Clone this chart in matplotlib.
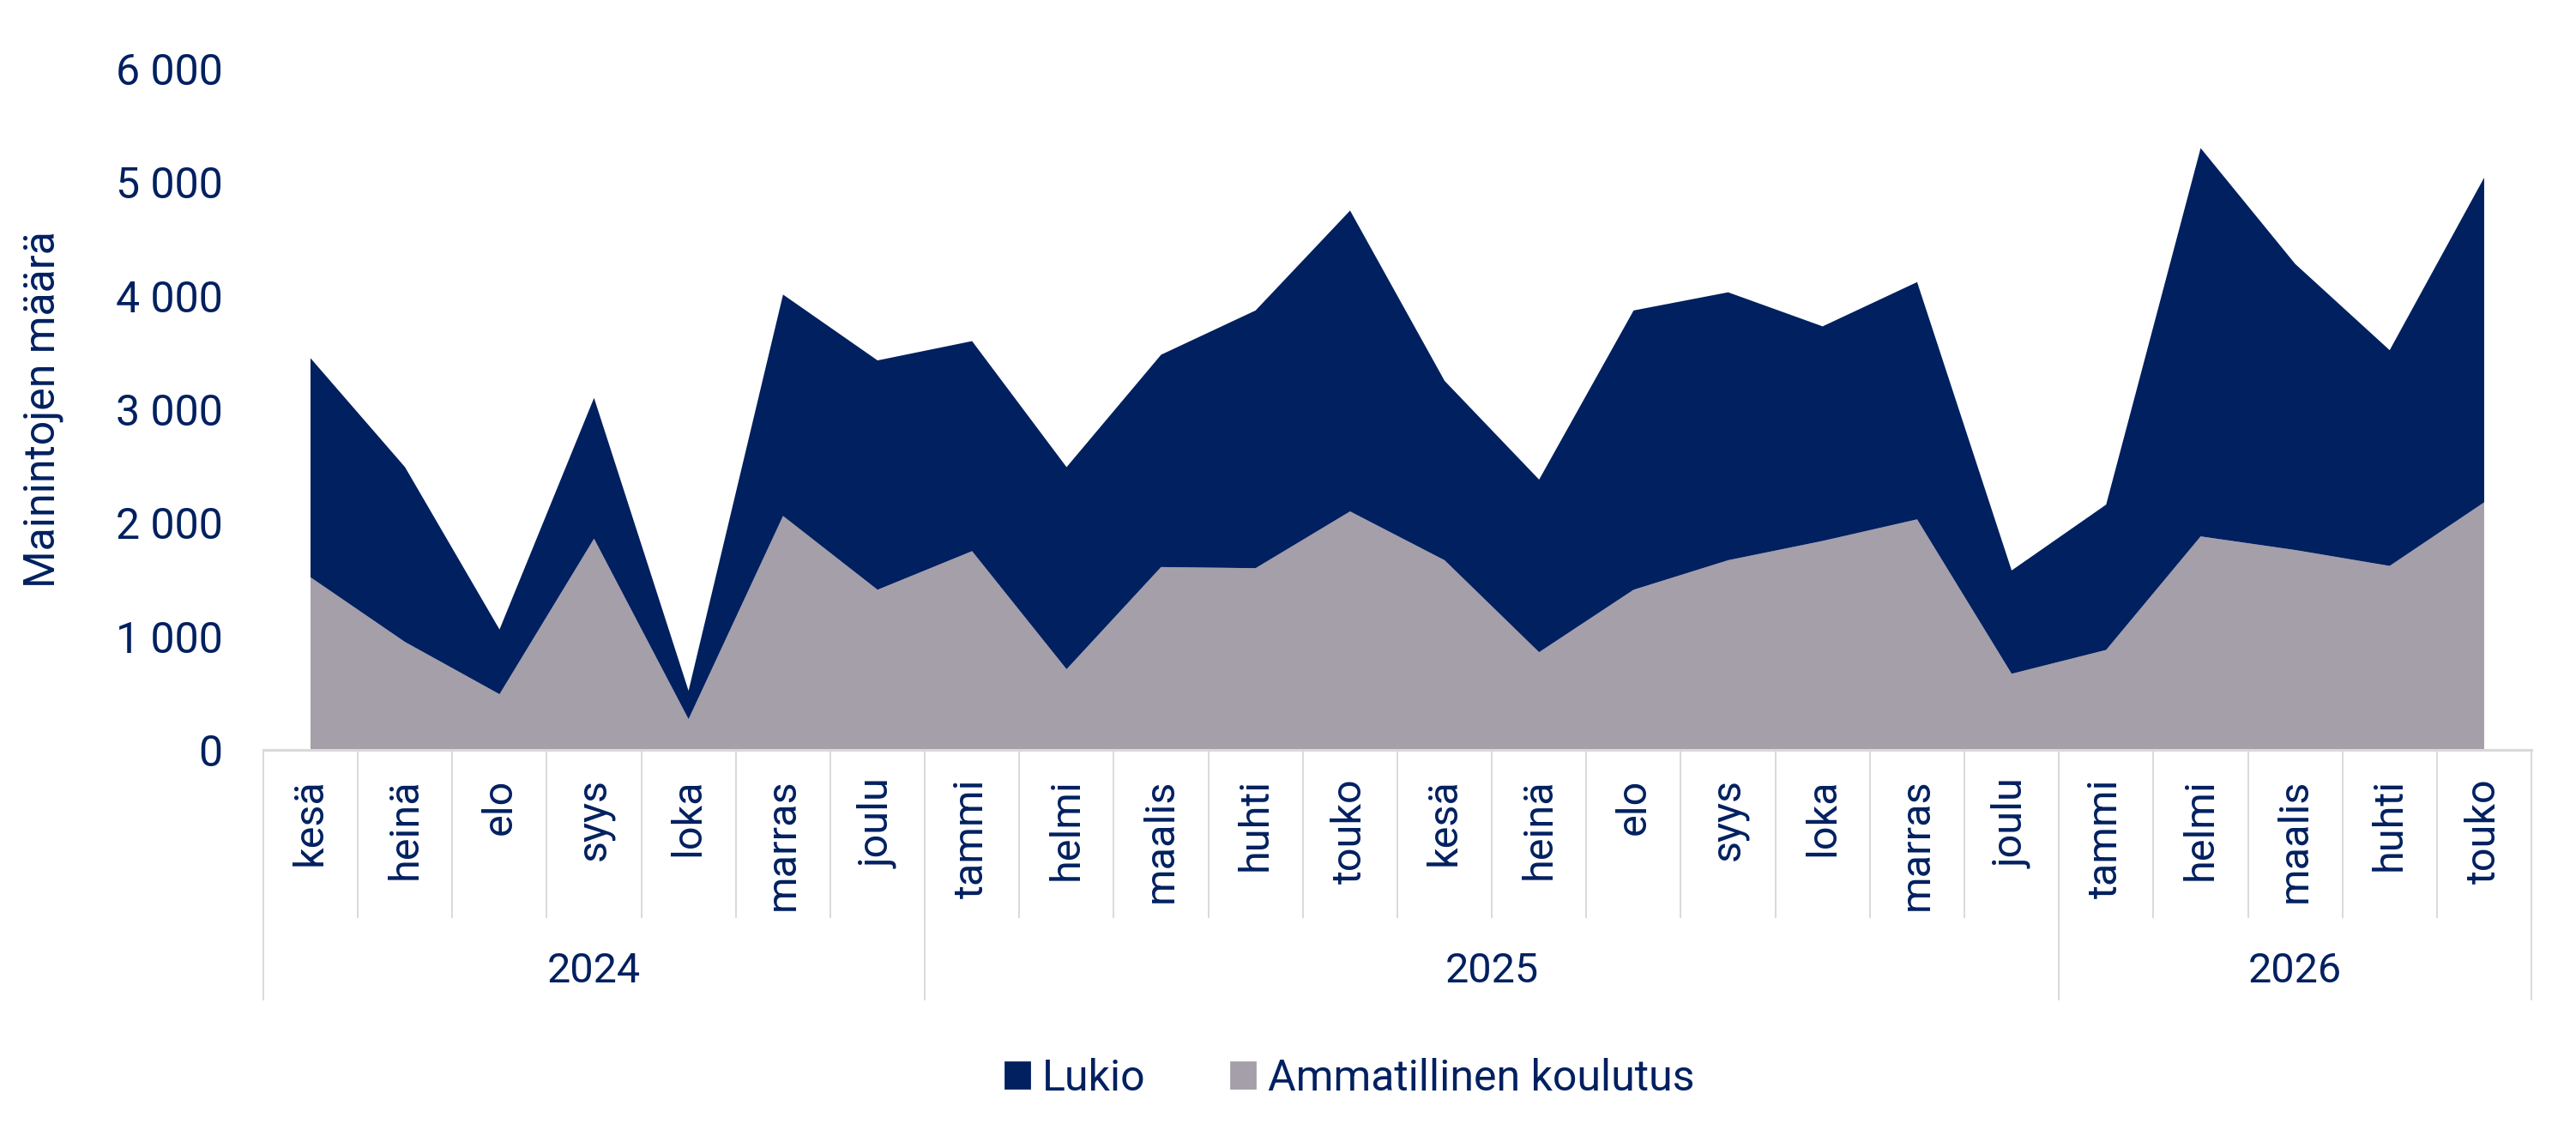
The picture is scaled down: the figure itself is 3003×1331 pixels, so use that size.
import matplotlib.pyplot as plt
import matplotlib.transforms as mtransforms
from matplotlib.patches import Patch
import numpy as np

plt.rcParams['font.family'] = ['Roboto', 'DejaVu Sans']

# months shown on the x axis, grouped by year
months = ['kesä', 'heinä', 'elo', 'syys', 'loka', 'marras', 'joulu',
          'tammi', 'helmi', 'maalis', 'huhti', 'touko', 'kesä', 'heinä',
          'elo', 'syys', 'loka', 'marras', 'joulu',
          'tammi', 'helmi', 'maalis', 'huhti', 'touko']
years = ['2024', '2025', '2026']
year_sizes = [7, 12, 5]

# stacked totals
total = [3450, 2490, 1060, 3100, 520, 4010, 3430,
         3600, 2490, 3480, 3870, 4750, 3250, 2380,
         3870, 4030, 3730, 4120, 1580,
         2160, 5300, 4280, 3520, 5040]
ammatillinen = [1520, 950, 490, 1860, 270, 2060, 1410,
                1750, 710, 1610, 1600, 2100, 1670, 860,
                1410, 1670, 1840, 2030, 670,
                880, 1880, 1760, 1620, 2180]
lukio = [t - a for t, a in zip(total, ammatillinen)]

navy = '#012060'
grey = '#A59FAA'
line_grey = '#D9D9D9'

fig = plt.figure(figsize=(15.015, 6.655), dpi=200)
ax = fig.add_axes([0.1022, 0.3434, 0.8805, 0.5965])

x = np.arange(len(months))
ax.stackplot(x, ammatillinen, lukio, colors=[grey, navy], linewidth=0)

ax.set_xlim(-0.5, len(months) - 0.5)
ax.set_ylim(0, 6000)
ax.set_yticks(range(0, 6001, 1000))
ax.set_yticklabels([f'{v:,}'.replace(',', ' ') for v in range(0, 6001, 1000)])
ax.tick_params(axis='y', length=0, pad=17, labelsize=18, labelcolor=navy)
ax.set_xticks(x)
ax.set_xticklabels(months, rotation=90)
ax.tick_params(axis='x', length=0, pad=12, labelsize=17.5, labelcolor=navy)
ax.set_ylabel('Mainintojen määrä', fontsize=18, color=navy, labelpad=22)

for side in ['left', 'right', 'top']:
    ax.spines[side].set_visible(False)
ax.spines['bottom'].set_color(line_grey)
ax.spines['bottom'].set_linewidth(1.1)

# category separators and year groups below the axis
trans = mtransforms.blended_transform_factory(ax.transData, ax.transAxes)
for i in range(len(months) + 1):
    ax.plot([i - 0.5, i - 0.5], [0, -0.2456], color=line_grey, lw=0.7,
            transform=trans, clip_on=False)
start = 0
for year, n in zip(years, year_sizes):
    ax.plot([start - 0.5, start - 0.5], [0, -0.3665], color=line_grey, lw=0.7,
            transform=trans, clip_on=False)
    ax.text(start + (n - 1) / 2, -0.325, year, transform=trans, ha='center',
            va='center', fontsize=17.5, color=navy)
    start += n
ax.plot([start - 0.5, start - 0.5], [0, -0.3665], color=line_grey, lw=0.7,
        transform=trans, clip_on=False)

handles = [Patch(color=navy, label='Lukio'),
           Patch(color=grey, label='Ammatillinen koulutus')]
leg = fig.legend(handles=handles, loc='center', bbox_to_anchor=(0.524, 0.0556),
                 ncol=2, frameon=False, fontsize=18, handlelength=0.55,
                 handleheight=0.55, handletextpad=0.3, columnspacing=2.0)
for t in leg.get_texts():
    t.set_color(navy)

fig.savefig('out.png', dpi=200)
